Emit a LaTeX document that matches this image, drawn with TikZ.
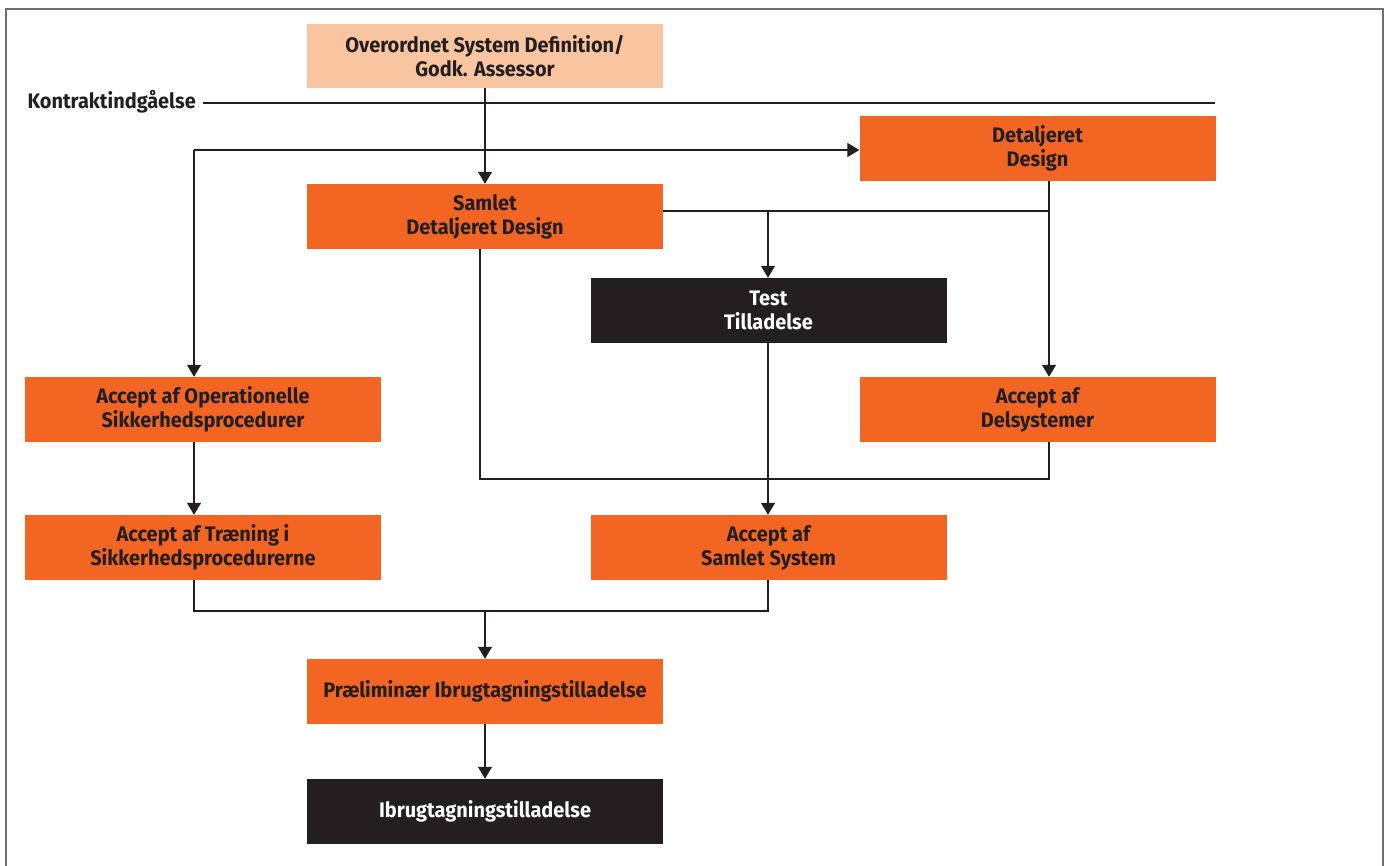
\documentclass[tikz,border=0pt]{standalone}
\usepackage{fontspec}
\setmainfont{Fira Sans}[FakeStretch=0.95]
\usetikzlibrary{arrows.meta}
\definecolor{orng}{HTML}{F26522}
\definecolor{peach}{HTML}{F9C5A0}
\definecolor{blk}{HTML}{231F20}
\definecolor{frame}{HTML}{6D6E71}
\tikzset{
  box/.style={rectangle, minimum width=356pt, minimum height=65pt, inner sep=0pt,
    align=center, font=\bfseries\fontsize{21}{24}\selectfont, text=blk},
  obox/.style={box, fill=orng},
  pbox/.style={box, fill=peach},
  bbox/.style={box, fill=blk, text=white},
  conn/.style={draw=blk, line width=1.3pt},
  arr/.style={conn, -{Triangle[width=14pt,length=12pt]}},
}
\begin{document}
\begin{tikzpicture}[x=1pt,y=-1pt]
\useasboundingbox (0,0) rectangle (1388,866);
\draw[frame, line width=1.5pt] (6,9) rectangle (1383,900);
% nodes
\node[pbox, minimum height=64pt] (top) at (485,56) {Overordnet System Definition/\\Godk. Assessor};
\node[obox] (det) at (1037.5,148.5) {Detaljeret\\Design};
\node[obox] (sam) at (485,216.5) {Samlet\\Detaljeret Design};
\node[bbox] (test) at (768.5,310.5) {Test\\Tilladelse};
\node[obox] (op) at (203,409.5) {Accept af Operationelle\\Sikkerhedsprocedurer};
\node[obox] (del) at (1037.5,409.5) {Accept af\\Delsystemer};
\node[obox] (tr) at (203,547.5) {Accept af Træning i\\Sikkerhedsprocedurerne};
\node[obox] (ss) at (768.5,547.5) {Accept af\\Samlet System};
\node[obox] (pre) at (485,691.5) {Præliminær Ibrugtagningstilladelse};
\node[bbox] (ibr) at (485,811.5) {Ibrugtagningstilladelse};
\node[anchor=east, inner sep=0pt, font=\bfseries\fontsize{21}{24}\selectfont, text=blk] (kon) at (196,102) {Kontraktindgåelse};
\coordinate (kend) at (1215,103);
% contract line
\draw[conn] (kon.east |- kend) ++(7,0) -- (kend);
% junction coordinates
\coordinate (j1) at (194,150);
\coordinate (j2) at (1049,211);
\coordinate (j3) at (480,479);
\coordinate (j4) at (1049,479);
\coordinate (j5) at (194,611);
\coordinate (j6) at (768,611);
% connectors
\draw[arr] (top.south) -- (sam.north);
\draw[arr] (j1) -- (j1 -| det.west);
\draw[arr] (j1) -- (j1 |- op.north);
\draw[conn] (sam.east |- j2) -- (j2);
\draw[arr] (j2 |- det.south) -- (j2 |- del.north);
\draw[arr] (768,211) -- (768,0 |- test.north);
\draw[conn] (j3 |- sam.south) -- (j3) -- (j4) -- (j4 |- del.south);
\draw[arr] (768,0 |- test.south) -- (768,0 |- ss.north);
\draw[arr] (194,0 |- op.south) -- (194,0 |- tr.north);
\draw[conn] (194,0 |- tr.south) -- (j5) -- (j6) -- (768,0 |- ss.south);
\draw[arr] (485,611) -- (pre.north);
\draw[arr] (pre.south) -- (ibr.north);
\end{tikzpicture}
\end{document}
